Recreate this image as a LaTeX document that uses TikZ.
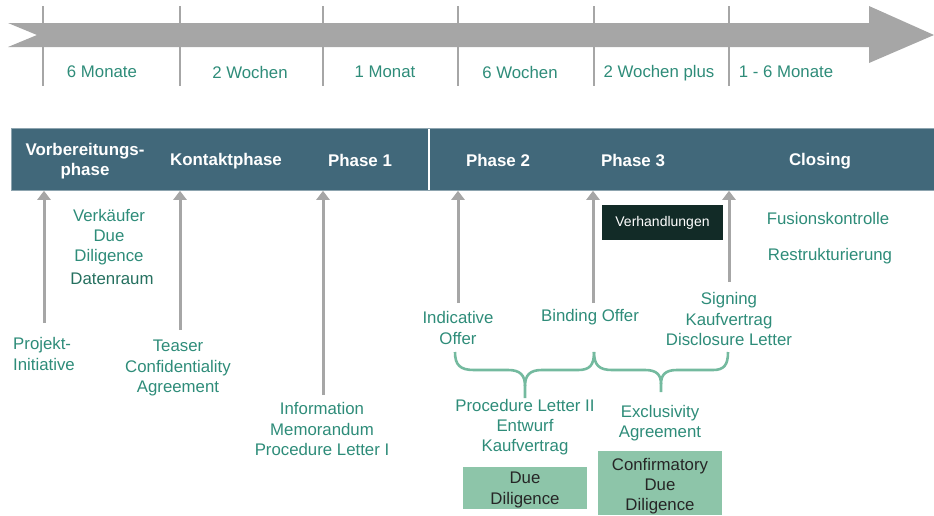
\documentclass[tikz,border=0pt]{standalone}
\usepackage{fontspec}
\setmainfont{Liberation Sans}
\usetikzlibrary{arrows.meta}
\definecolor{tgreen}{HTML}{2E8C79}
\definecolor{tdark}{HTML}{25705F}
\definecolor{bandc}{HTML}{41687A}
\definecolor{greyc}{HTML}{A6A6A6}
\definecolor{boxg}{HTML}{8DC5A9}
\definecolor{boxd}{HTML}{122B27}
\definecolor{bracec}{HTML}{74BA9F}
\tikzset{
  txt/.style={font=\fontsize{16.8}{20.3}\selectfont, text=tgreen, align=center, inner sep=0pt},
  phase/.style={font=\fontsize{16.9}{20.3}\selectfont\bfseries, text=white, align=center, inner sep=0pt},
  tick/.style={draw=greyc, line width=2pt},
  up/.style={draw=greyc, line width=3pt, -{Triangle[width=13pt,length=9pt]}},
  brace/.style={draw=bracec, line width=2.6pt, line join=round},
  gbox/.style={fill=boxg, inner sep=0pt, minimum width=124pt},
}
\begin{document}
\begin{tikzpicture}[x=1pt,y=-1pt]
\useasboundingbox (0,0) rectangle (934,515);
% ticks
\foreach \t/\x in {t1/43,t2/180,t3/323,t4/458,t5/594,t6/729}{
  \coordinate (\t) at (\x,6);
  \draw[tick] (\t) -- ++(0,80);
}
% big arrow
\fill[greyc] (8,23) -- (869,23) -- (869,6) -- (934,35) -- (869,63) -- (869,47) -- (8,47) -- (37,35) -- cycle;
% durations
\node[txt] (d1) at (102,72) {6 Monate};
\node[txt] (d2) at (250,72) {2 Wochen};
\node[txt] (d3) at (385,72) {1 Monat};
\node[txt] (d4) at (520,72) {6 Wochen};
\node[txt] (d5) at (659,73) {2 Wochen plus};
\node[txt] (d6) at (786,72) {1 - 6 Monate};
% band
\node[fill=bandc, draw=bandc!60!white, line width=0.8pt, minimum width=923pt, minimum height=62pt, inner sep=0pt, anchor=north west] (band) at (11,128) {};
\draw[white, line width=1.2pt] (429,128.5) -- (429,189.5);
\node[phase] (ph0) at (85,161) {Vorbereitungs-\\phase};
\node[phase] (ph1) at (226,161.5) {Kontaktphase};
\node[phase] (ph2) at (360,160) {Phase 1};
\node[phase] (ph3) at (498,160) {Phase 2};
\node[phase] (ph4) at (633,160) {Phase 3};
\node[phase] (ph5) at (820,161.5) {Closing};
% arrows
\foreach \a/\x/\y in {a1/44/323,a2/180/330,a3/323/395,a4/458/303,a5/593/303,a6/729/282}{
  \coordinate (\a) at (\x,\y);
  \draw[up] (\a) -- (\a |- band.south);
}
% texts
\node[txt, anchor=west, align=left] (proj) at (13,354) {Projekt-\\Initiative};
\node[txt] (vdd) at (109,237) {Verkäufer\\Due\\Diligence};
\node[txt, text=tdark] (dr) at (112,279) {Datenraum};
\node[txt] (teaser) at (178,368) {Teaser\\Confidentiality\\Agreement};
\node[txt] (im) at (322,429) {Information\\Memorandum\\Procedure Letter I};
\node[txt] (io) at (458,328) {Indicative\\Offer};
\node[txt] (bo) at (590,317) {Binding Offer};
\node[txt] (sig) at (729,319) {Signing\\Kaufvertrag\\Disclosure Letter};
\node[fill=boxd, text=white, font=\fontsize{14}{17}\selectfont, minimum width=121pt, minimum height=35pt, inner sep=0pt] (verh) at (662.5,222.5) {Verhandlungen};
\node[txt] (fk) at (828,218) {Fusionskontrolle};
\node[txt] (rs) at (830,256) {Restrukturierung};
\node[txt] (pl) at (525,427) {Procedure Letter II\\Entwurf\\Kaufvertrag};
\node[txt] (ex) at (660,423) {Exclusivity\\Agreement};
\node[gbox, minimum height=42pt] (dd) at (525,488) {};
\node[txt, text=black!85] (ddt) at (525,490) {Due\\Diligence};
\node[gbox, minimum height=64pt] (cdd) at (660,483) {};
\node[txt, text=black!85] (cddt) at (660,486) {Confirmatory\\Due\\Diligence};
% braces
\draw[brace] (455,352) .. controls (455,365) and (460,370) .. (474,370) -- (508,370) .. controls (520,370) and (525,375) .. (525,386) -- (525,398);
\draw[brace] (525,386) .. controls (525,375) and (530,370) .. (542,370) -- (578,370) .. controls (590,370) and (594,365) .. (594,352);
\draw[brace] (594,352) .. controls (594,365) and (599,370) .. (612,370) -- (645,370) .. controls (657,370) and (661,375) .. (661,384) -- (661,392);
\draw[brace] (661,384) .. controls (661,375) and (665,370) .. (677,370) -- (713,370) .. controls (724,370) and (728,365) .. (728,352);
\end{tikzpicture}
\end{document}
